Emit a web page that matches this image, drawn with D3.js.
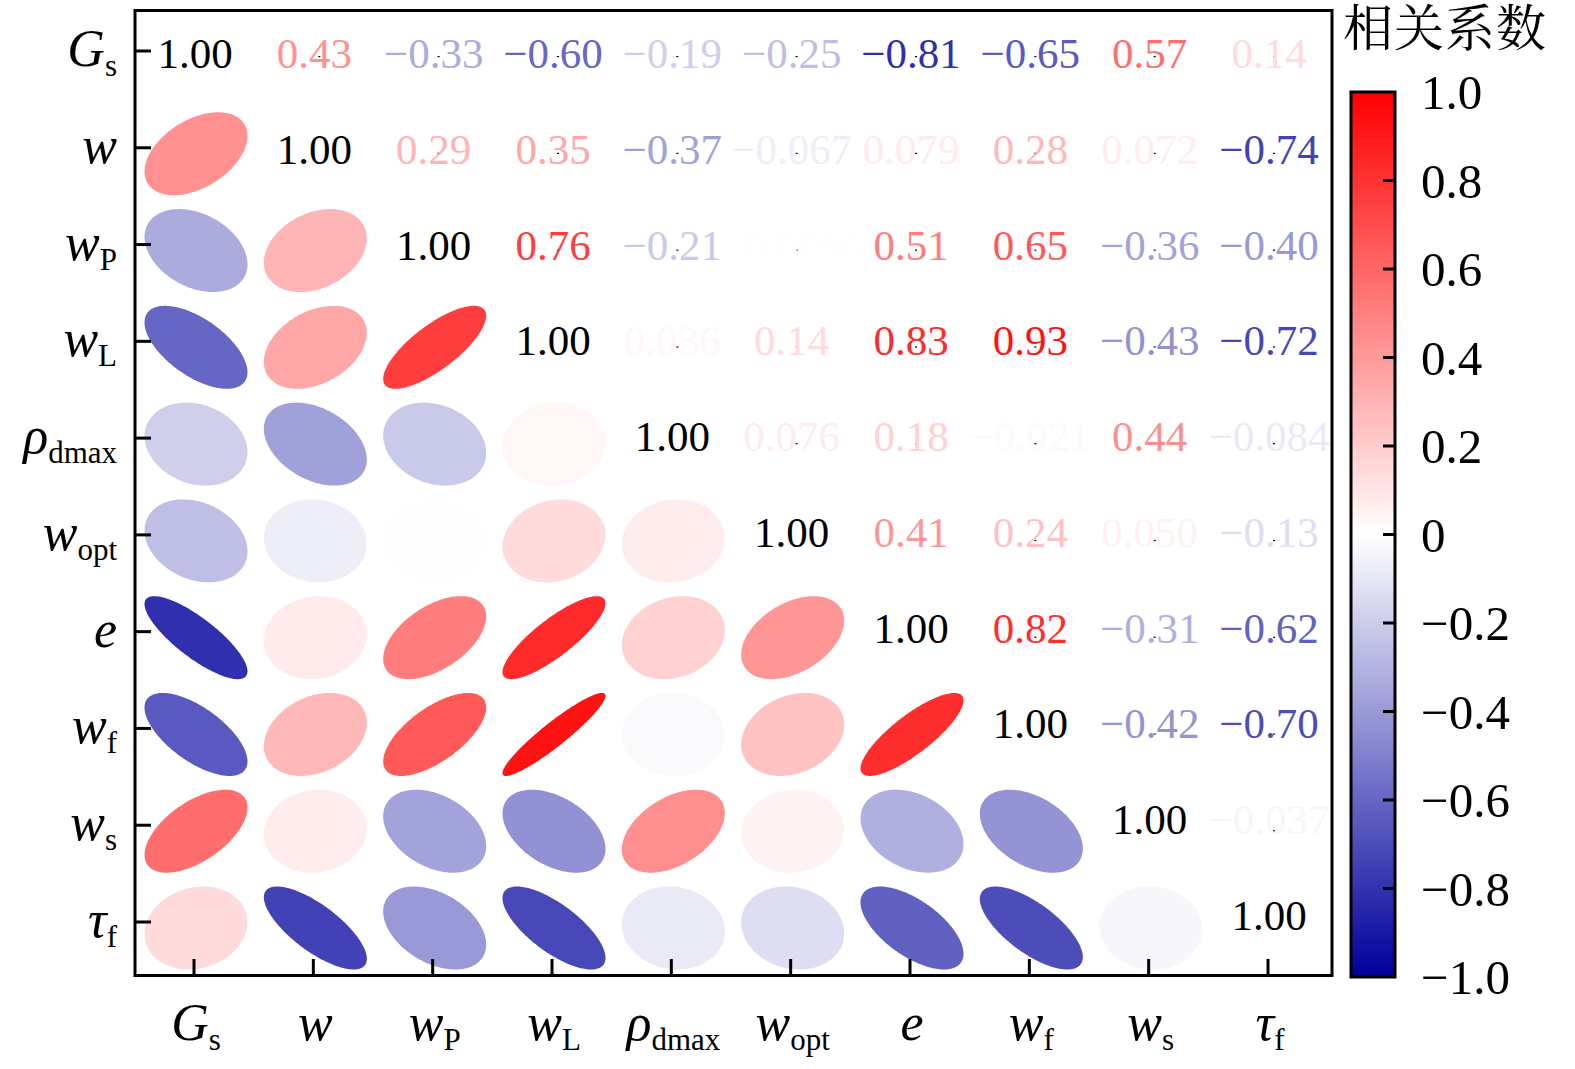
<!DOCTYPE html>
<html>
<head>
<meta charset="utf-8">
<script src="https://cdn.jsdelivr.net/npm/d3@7"></script>
<style>
  body { margin: 0; background: #fff; }
  text { font-family: "Liberation Serif", "Times New Roman", serif; }
</style>
</head>
<body>
<div id="chart"></div>
<script>
// variable names, split into main symbol + subscript
const vars = ['Gs', 'w', 'wP', 'wL', 'rhodmax', 'wopt', 'e', 'wf', 'ws', 'tauf']
const mains = ['G', 'w', 'w', 'w', 'ρ', 'w', 'e', 'w', 'w', 'τ']
const subs = ['s', '', 'P', 'L', 'dmax', 'opt', '', 'f', 's', 'f']

// upper triangle of the correlation matrix, row by row (diagonal included)
const upper = [
  [1, 0.43, -0.33, -0.60, -0.19, -0.25, -0.81, -0.65, 0.57, 0.14],
  [1, 0.29, 0.35, -0.37, -0.067, 0.079, 0.28, 0.072, -0.74],
  [1, 0.76, -0.21, -0.0056, 0.51, 0.65, -0.36, -0.40],
  [1, 0.036, 0.14, 0.83, 0.93, -0.43, -0.72],
  [1, 0.076, 0.18, -0.021, 0.44, -0.084],
  [1, 0.41, 0.24, 0.050, -0.13],
  [1, 0.82, -0.31, -0.62],
  [1, -0.42, -0.70],
  [1, -0.037],
  [1]
]

const cbTicks = [1, 0.8, 0.6, 0.4, 0.2, 0, -0.2, -0.4, -0.6, -0.8, -1]
const cbTitle = '相关系数'

const n = vars.length
const cells = []
upper.forEach((row, i) => {
  row.forEach((v, k) => {
    const j = i + k
    cells.push({ i, j, v })
    if (i !== j) cells.push({ i: j, j: i, v })
  })
})

const W = 1575
const H = 1069

const svg = d3.select('#chart').append('svg').attr('width', W).attr('height', H)

const x = d3.scalePoint(vars, [194, 1268])
const yTick = d3.scalePoint(vars, [51, 922])
const yText = d3.scalePoint(vars, [68, 930])
const color = d3.scaleLinear([-1, 0, 1], ['#00009c', '#ffffff', '#ff0000'])

const fmt = (v) => {
  const s = Math.abs(v) >= 0.1 ? v.toFixed(2) : v.toPrecision(2)
  return s.replace('-', '\u2212')
}

// ellipses in the lower triangle
const a = 51.5
const b = 41.5
const ts = d3.range(0, 2 * Math.PI + 0.001, Math.PI / 90)
const ellipse = (d) => {
  const cx = x(vars[d.j]) + 2
  const cy = yTick(vars[d.i]) + 6
  const h = Math.acos(d.v) / 2
  return d3.line()(ts.map((t) => [cx + a * Math.cos(t + h), cy - b * Math.cos(t - h)])) + 'Z'
}

svg.append('g')
  .selectAll('path')
  .data(cells.filter((d) => d.i > d.j))
  .enter()
  .append('path')
  .attr('d', ellipse)
  .attr('fill', (d) => color(d.v))

// small centre marks under the numbers
svg.append('g')
  .selectAll('rect')
  .data(cells.filter((d) => d.i < d.j))
  .enter()
  .append('rect')
  .attr('x', (d) => x(vars[d.j]) + 5)
  .attr('y', (d) => yTick(vars[d.i]) + 5)
  .attr('width', 2)
  .attr('height', 1.2)
  .attr('fill', '#000')

// numbers in the upper triangle and diagonal
svg.append('g')
  .selectAll('text')
  .data(cells.filter((d) => d.i <= d.j))
  .enter()
  .append('text')
  .attr('x', (d) => x(vars[d.j]) + 1)
  .attr('y', (d) => yText(vars[d.i]))
  .attr('text-anchor', 'middle')
  .attr('font-size', 43)
  .attr('fill', (d) => (d.i === d.j ? '#000' : color(d.v)))
  .text((d) => fmt(d.v))

// frame
svg.append('rect')
  .attr('x', 135).attr('y', 10.5)
  .attr('width', 1197).attr('height', 965)
  .attr('fill', 'none').attr('stroke', '#000').attr('stroke-width', 3)

// ticks
svg.append('g')
  .selectAll('line')
  .data(vars)
  .enter()
  .append('line')
  .attr('x1', 135).attr('x2', 151)
  .attr('y1', (d) => yTick(d)).attr('y2', (d) => yTick(d))
  .attr('stroke', '#000').attr('stroke-width', 3)

svg.append('g')
  .selectAll('line')
  .data(vars)
  .enter()
  .append('line')
  .attr('x1', (d) => x(d)).attr('x2', (d) => x(d))
  .attr('y1', 975).attr('y2', 959)
  .attr('stroke', '#000').attr('stroke-width', 3)

// axis labels
const label = (sel) => {
  sel.append('tspan')
    .attr('font-style', 'italic')
    .attr('font-size', 52)
    .text((d, i) => mains[i])
  sel.append('tspan')
    .attr('font-size', 31)
    .attr('dy', 10)
    .text((d, i) => subs[i])
}

svg.append('g')
  .selectAll('text')
  .data(vars)
  .enter()
  .append('text')
  .attr('x', 117)
  .attr('y', (d) => yTick(d) + 15)
  .attr('text-anchor', 'end')
  .call(label)

svg.append('g')
  .selectAll('text')
  .data(vars)
  .enter()
  .append('text')
  .attr('x', (d) => x(d) + 2)
  .attr('y', 1040)
  .attr('text-anchor', 'middle')
  .call(label)

// colour bar
const cb = d3.scaleLinear([-1, 1], [977, 92])
const grad = svg.append('defs').append('linearGradient')
  .attr('id', 'cbgrad')
  .attr('x1', 0).attr('y1', 1).attr('x2', 0).attr('y2', 0)
grad.selectAll('stop')
  .data(d3.range(-1, 1.001, 0.1))
  .enter()
  .append('stop')
  .attr('offset', (d) => (d + 1) / 2)
  .attr('stop-color', (d) => color(d))

svg.append('rect')
  .attr('x', 1351).attr('y', cb(1))
  .attr('width', 44).attr('height', cb(-1) - cb(1))
  .attr('fill', 'url(#cbgrad)')
  .attr('stroke', '#000').attr('stroke-width', 3)

svg.append('g')
  .selectAll('line')
  .data(cbTicks.filter((d) => Math.abs(d) < 1))
  .enter()
  .append('line')
  .attr('x1', 1395).attr('x2', 1383)
  .attr('y1', (d) => cb(d)).attr('y2', (d) => cb(d))
  .attr('stroke', '#000').attr('stroke-width', 3)

svg.append('g')
  .selectAll('text')
  .data(cbTicks)
  .enter()
  .append('text')
  .attr('x', 1421)
  .attr('y', (d) => cb(d) + 17)
  .attr('font-size', 49)
  .text((d) => (d === 0 ? '0' : d.toFixed(1).replace('-', '\u2212')))

svg.append('text')
  .attr('x', 1343)
  .attr('y', 46)
  .attr('font-size', 50)
  .attr('letter-spacing', 1)
  .style('font-family', '"Noto Serif CJK SC", "Noto Sans CJK SC", sans-serif')
  .text(cbTitle)
</script>
</body>
</html>
